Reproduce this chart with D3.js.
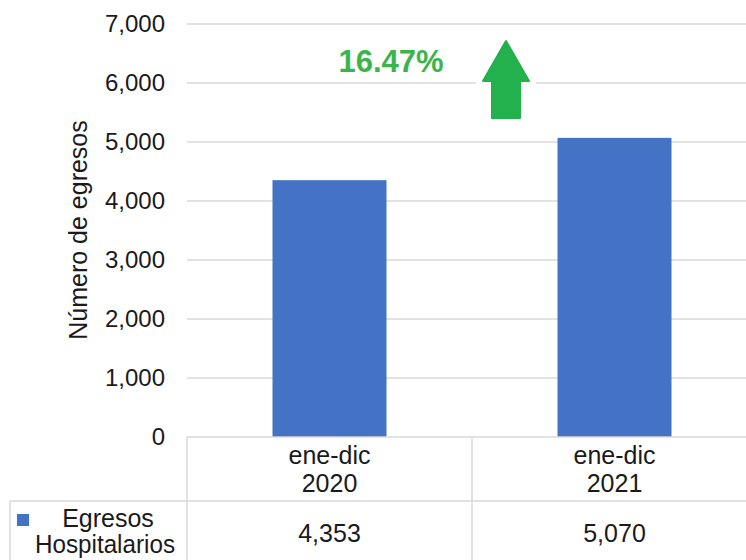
<!DOCTYPE html>
<html><head><meta charset="utf-8">
<script src="https://cdn.jsdelivr.net/npm/d3@7"></script>
<style>body{margin:0;background:#fff}svg{display:block}text{font-family:"Liberation Sans",Arial,sans-serif}</style>
</head><body><svg id="c" width="746" height="560"></svg>
<script>
const categories = [["ene-dic","2020"],["ene-dic","2021"]];
const seriesName = ["Egresos","Hospitalarios"];
const values = [4353, 5070];
const yTicks = [0,1000,2000,3000,4000,5000,6000,7000];
const changeLabel = "16.47%";
const yTitle = "Número de egresos";

const svg = d3.select("#c");
const pLeft = 187, pRight = 757, pTop = 24, pBottom = 437;
const x = d3.scaleBand().domain(categories.map((d,i)=>i)).range([pLeft,pRight]).paddingInner(0.6).paddingOuter(0.3);
const y = d3.scaleLinear().domain([0,7000]).range([pBottom,pTop]);
const fmt = d3.format(",");
const txt = "#1a1a1a", grid = "#d9d9d9";

svg.append("g").selectAll("line").data(yTicks.filter(d=>d>0)).join("line")
  .attr("x1",pLeft).attr("x2",746).attr("y1",d=>y(d)).attr("y2",d=>y(d))
  .attr("stroke",grid).attr("stroke-width",1.3);
svg.append("g").selectAll("text").data(yTicks).join("text")
  .attr("x",165).attr("y",d=>y(d)+8).attr("text-anchor","end")
  .attr("font-size",24).attr("fill",txt).text(d=>fmt(d));
svg.append("text").attr("transform","translate(87,230) rotate(-90)")
  .attr("text-anchor","middle").attr("font-size",25).attr("fill",txt).text(yTitle);
svg.append("g").selectAll("rect").data(values).join("rect")
  .attr("x",(d,i)=>x(i)).attr("width",x.bandwidth())
  .attr("y",d=>y(d)).attr("height",d=>pBottom-y(d)).attr("fill","#4472c4");

const tl = "#d9d9d9";
const lines = [
  [pLeft,pBottom,746,pBottom],
  [pLeft,pBottom,pLeft,560],
  [x.step()+pLeft,pBottom,x.step()+pLeft,560],
  [10,501,746,501],
  [10,501,10,560]
];
svg.append("g").selectAll("line").data(lines).join("line")
  .attr("x1",d=>d[0]).attr("y1",d=>d[1]).attr("x2",d=>d[2]).attr("y2",d=>d[3])
  .attr("stroke",tl).attr("stroke-width",1.5);
categories.forEach((c,i)=>{
  const cx = x(i)+x.bandwidth()/2;
  svg.append("text").attr("x",cx).attr("y",464).attr("text-anchor","middle").attr("font-size",25).attr("fill",txt).text(c[0]);
  svg.append("text").attr("x",cx).attr("y",492).attr("text-anchor","middle").attr("font-size",25).attr("fill",txt).text(c[1]);
  svg.append("text").attr("x",cx).attr("y",542).attr("text-anchor","middle").attr("font-size",25).attr("fill",txt).text(fmt(values[i]));
});
svg.append("rect").attr("x",17).attr("y",514).attr("width",12).attr("height",12).attr("fill","#4472c4");
svg.append("text").attr("x",108).attr("y",527).attr("text-anchor","middle").attr("font-size",25).attr("fill",txt).text(seriesName[0]);
svg.append("text").attr("x",35).attr("y",553).attr("font-size",25).attr("fill",txt)
  .attr("textLength",140).attr("lengthAdjust","spacingAndGlyphs").text(seriesName[1]);

svg.append("rect").attr("x",318).attr("y",42).attr("width",146).attr("height",38).attr("fill","#fff");
svg.append("text").attr("x",391).attr("y",72).attr("text-anchor","middle").attr("font-size",31).attr("font-weight","bold")
  .attr("fill","#3cb44b").text(changeLabel);
svg.append("rect").attr("x",476).attr("y",36).attr("width",60).attr("height",86).attr("fill","#fff");
svg.append("path").attr("d","M506,41 L529,81 L520,81 L520,118 L492,118 L492,81 L483,81 Z")
  .attr("fill","#22b14c").attr("stroke","#22b14c").attr("stroke-width",2).attr("stroke-linejoin","round");
</script></body></html>
